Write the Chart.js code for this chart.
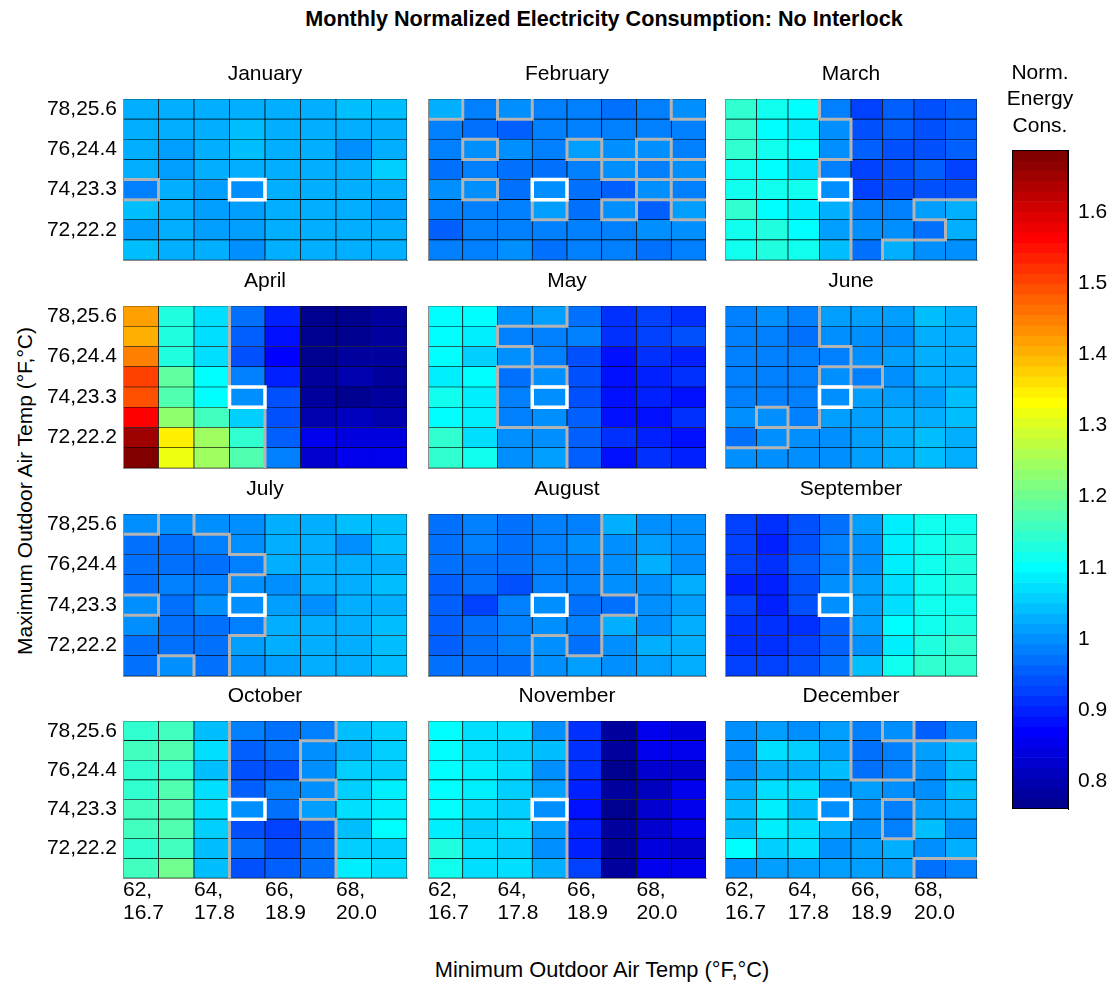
<!DOCTYPE html>
<html><head><meta charset="utf-8">
<script src="https://cdn.jsdelivr.net/npm/chart.js@4/dist/chart.umd.min.js"></script>
<style>
html,body{margin:0;padding:0;background:#fff;}
body{width:1109px;height:984px;position:relative;overflow:hidden;font-family:'Liberation Sans',Arial,Helvetica,sans-serif;}
canvas{position:absolute;}
.t{position:absolute;white-space:nowrap;color:#000;line-height:1;transform:translate(-50%,-50%);}
</style></head><body>
<div class="t" id="supTitle" style="left:604px;top:19px;font-size:21.6px;font-weight:bold;">Monthly Normalized Electricity Consumption: No Interlock</div>
<div class="t" id="xTitle" style="left:602px;top:970px;font-size:21.8px;">Minimum Outdoor Air Temp (°F,°C)</div>
<div class="t" id="yTitle" style="left:24px;top:491px;font-size:21px;transform:translate(-50%,-50%) rotate(-90deg);">Maximum Outdoor Air Temp (°F,°C)</div>
<script>
// ---------------- data ----------------
const monthNames = ["January","February","March","April","May","June","July","August","September","October","November","December"];
const minTemps = [62,63,64,65,66,67,68,69];          // columns (°F)
const maxTemps = [78,77,76,75,74,73,72,71];          // rows, top to bottom (°F)
const xTickValues = [62,64,66,68];
const xTickLabels = [["62,","16.7"],["64,","17.8"],["66,","18.9"],["68,","20.0"]];
const yTickValues = [78,76,74,72];
const yTickLabels = ["78,25.6","76,24.4","74,23.3","72,22.2"];
const baselineMin = 65, baselineMax = 74;            // white box cell
const contourLevel = 1.0;                            // gray contour
const cbTickValues = [0.8,0.9,1.0,1.1,1.2,1.3,1.4,1.5,1.6];
const cbTickLabels = ["0.8","0.9","1","1.1","1.2","1.3","1.4","1.5","1.6"];
const colorMin = 0.761, colorMax = 1.687, nColors = 64;

const january = [
 [1.029,1.022,1.029,1.022,1.029,1.029,1.043,1.043],
 [1.022,1.029,1.022,1.043,1.029,1.022,1.029,1.029],
 [1.029,1.014,1.029,1.043,1.029,1.022,1.004,1.029],
 [1.029,1.014,1.029,1.022,1.029,1.029,1.029,1.058],
 [0.985,1.029,1.014,1.000,1.022,1.029,1.029,1.022],
 [1.043,1.029,1.014,1.014,1.029,1.029,1.029,1.014],
 [1.014,1.029,1.014,1.014,1.029,1.029,1.029,1.029],
 [1.043,1.029,1.029,1.004,1.029,1.029,1.029,1.022]];
const february = [
 [1.029,0.985,1.004,0.990,0.990,0.971,0.990,1.005],
 [0.990,0.975,0.956,0.985,0.990,0.985,0.990,0.985],
 [0.985,1.004,0.997,0.990,1.014,0.997,1.004,0.990],
 [0.975,0.985,0.975,0.975,0.985,1.003,0.985,1.003],
 [0.997,1.004,0.975,1.000,0.975,0.956,1.004,0.985],
 [0.985,0.990,0.990,1.014,0.975,1.004,0.956,1.014],
 [0.960,0.985,0.985,0.985,0.990,0.985,0.997,0.997],
 [0.990,0.985,0.997,0.970,0.990,0.985,0.975,0.990]];
const march = [
 [1.145,1.116,1.101,0.990,0.927,0.956,0.942,0.956],
 [1.145,1.101,1.087,1.004,0.942,0.956,0.942,0.956],
 [1.145,1.116,1.101,1.004,0.956,0.942,0.942,0.956],
 [1.116,1.101,1.072,0.985,0.927,0.942,0.956,0.927],
 [1.116,1.116,1.116,1.000,0.927,0.942,0.942,0.942],
 [1.145,1.101,1.087,1.029,0.985,0.985,1.014,1.029],
 [1.116,1.130,1.101,1.014,0.997,0.997,0.971,1.029],
 [1.116,1.130,1.116,1.043,0.971,1.029,1.004,1.004]];
const april = [
 [1.420,1.130,1.072,0.971,0.898,0.768,0.768,0.783],
 [1.406,1.130,1.072,0.956,0.884,0.768,0.768,0.783],
 [1.449,1.130,1.072,0.942,0.870,0.768,0.783,0.783],
 [1.507,1.188,1.101,0.985,0.898,0.783,0.797,0.783],
 [1.493,1.174,1.101,1.000,0.942,0.783,0.768,0.783],
 [1.565,1.232,1.159,1.058,0.942,0.797,0.812,0.797],
 [1.652,1.348,1.246,1.145,0.956,0.855,0.841,0.841],
 [1.680,1.319,1.246,1.174,0.985,0.826,0.855,0.855]];
const may = [
 [1.101,1.101,1.003,1.010,0.971,0.913,0.927,0.913],
 [1.101,1.087,0.985,0.985,0.990,0.913,0.927,0.942],
 [1.101,1.058,1.004,0.985,0.942,0.884,0.913,0.898],
 [1.087,1.101,0.971,1.006,0.942,0.884,0.898,0.913],
 [1.116,1.087,0.985,1.000,0.942,0.884,0.898,0.884],
 [1.101,1.087,0.985,0.997,0.956,0.884,0.884,0.913],
 [1.145,1.072,1.003,1.006,0.956,0.913,0.898,0.884],
 [1.145,1.116,1.005,1.014,0.956,0.884,0.913,0.898]];
const june = [
 [0.985,0.997,0.985,1.014,1.014,1.014,1.043,1.029],
 [0.985,0.985,0.971,1.003,1.004,1.004,1.029,1.029],
 [0.985,0.985,0.985,0.990,1.005,1.014,1.029,1.029],
 [0.985,0.990,0.985,1.003,0.985,1.003,1.029,1.029],
 [0.985,0.985,0.985,1.000,1.014,1.014,1.014,1.043],
 [0.997,1.004,0.985,1.014,1.014,1.029,1.029,1.043],
 [0.971,0.997,1.004,1.003,1.014,1.029,1.043,1.029],
 [1.004,1.004,1.004,1.005,1.014,1.029,1.043,1.029]];
const july = [
 [1.003,0.997,1.004,1.004,1.029,1.022,1.043,1.043],
 [0.971,0.971,0.985,1.005,1.022,1.022,1.005,1.043],
 [0.971,0.971,0.971,0.985,1.029,1.022,1.029,1.029],
 [0.971,0.985,0.985,1.003,1.003,1.022,1.029,1.043],
 [1.004,0.971,0.997,1.000,1.014,1.003,1.029,1.029],
 [0.997,0.971,0.971,0.988,1.022,1.022,1.029,1.036],
 [0.971,0.971,0.971,1.014,1.022,1.029,1.022,1.043],
 [0.971,1.004,0.971,1.004,1.014,1.029,1.029,1.043]];
const august = [
 [0.971,0.985,0.971,0.985,0.985,1.029,1.004,1.005],
 [0.971,0.985,0.971,0.985,0.997,1.003,1.014,1.004],
 [0.971,0.971,0.971,0.985,0.985,1.003,1.029,1.005],
 [0.956,0.971,0.942,0.985,0.985,1.003,1.005,1.029],
 [0.956,0.927,0.985,1.000,0.971,0.971,1.005,1.014],
 [0.956,0.971,0.985,0.997,0.985,1.029,1.004,1.029],
 [0.956,0.971,0.985,1.003,0.971,1.005,1.029,1.029],
 [0.971,0.971,0.971,1.004,1.014,1.005,1.014,1.029]];
const september = [
 [0.927,0.913,0.942,0.971,1.014,1.087,1.116,1.116],
 [0.927,0.898,0.942,0.985,1.004,1.087,1.116,1.130],
 [0.927,0.913,0.956,0.985,1.003,1.087,1.116,1.130],
 [0.898,0.898,0.942,0.997,1.014,1.072,1.116,1.130],
 [0.927,0.898,0.942,1.000,1.014,1.072,1.116,1.116],
 [0.913,0.913,0.913,0.956,1.014,1.101,1.116,1.130],
 [0.913,0.913,0.927,0.956,1.004,1.087,1.130,1.145],
 [0.927,0.927,0.942,0.971,1.043,1.116,1.145,1.145]];
const october = [
 [1.145,1.159,1.043,0.985,0.971,0.985,1.043,1.058],
 [1.159,1.174,1.072,0.956,0.971,1.004,1.029,1.058],
 [1.145,1.145,1.043,0.942,0.942,1.006,1.058,1.058],
 [1.145,1.174,1.072,0.956,0.985,0.997,1.058,1.087],
 [1.159,1.174,1.072,1.000,0.971,1.014,1.072,1.087],
 [1.159,1.174,1.058,0.942,0.927,0.956,1.043,1.101],
 [1.145,1.159,1.043,0.971,0.942,0.971,1.058,1.058],
 [1.159,1.203,1.043,0.942,0.956,0.971,1.087,1.072]];
const november = [
 [1.101,1.072,1.072,1.004,0.913,0.783,0.855,0.841],
 [1.101,1.072,1.058,1.043,0.913,0.783,0.855,0.855],
 [1.101,1.087,1.072,1.005,0.913,0.768,0.826,0.826],
 [1.101,1.087,1.058,1.014,0.898,0.783,0.812,0.855],
 [1.101,1.072,1.058,1.000,0.884,0.768,0.826,0.855],
 [1.087,1.058,1.072,1.014,0.898,0.783,0.826,0.855],
 [1.130,1.072,1.058,1.004,0.898,0.783,0.841,0.826],
 [1.116,1.072,1.072,1.029,0.927,0.783,0.855,0.855]];
const december = [
 [1.004,1.014,1.005,1.014,0.985,1.003,0.956,0.997],
 [1.003,1.072,1.058,1.014,0.971,0.985,1.014,1.043],
 [1.003,1.029,1.029,1.043,0.971,0.985,1.004,1.043],
 [1.029,1.072,1.072,1.002,1.014,1.004,1.004,1.043],
 [1.043,1.087,1.043,1.000,1.002,0.985,1.014,1.029],
 [1.043,1.087,1.072,1.029,1.004,0.985,1.043,1.004],
 [1.101,1.058,1.072,1.004,1.014,1.029,1.004,1.029],
 [1.004,1.014,1.014,1.014,1.014,1.014,0.971,0.985]];
const monthValues = [january,february,march,april,may,june,july,august,september,october,november,december];

// ---------------- layout / style ----------------
const FONT = "'Liberation Sans', Arial, Helvetica, sans-serif";
Chart.defaults.font.family = FONT;
Chart.defaults.color = '#000';
const layout = { colLeft:[123,428,725], colWidth:[284,278,252], rowTop:[99,306,514,721], rowHeight:[161,162,162,157] };
const cbBox = { left:1012, top:150, width:56, height:659 };

function jet(m){
  const n = Math.ceil(m/4), u = [];
  for (let i=1;i<=n;i++) u.push(i/n);
  for (let i=0;i<n-1;i++) u.push(1);
  for (let i=n;i>=1;i--) u.push(i/n);
  const g0 = Math.ceil(n/2) - (m%4===1?1:0);
  const cols = Array.from({length:m},()=>[0,0,0]);
  for (let k=0;k<u.length;k++){
    const g=g0+k+1, r=g+n, b=g-n;
    if (g>=1&&g<=m) cols[g-1][1]=u[k];
    if (r>=1&&r<=m) cols[r-1][0]=u[k];
    if (b>=1&&b<=m) cols[b-1][2]=u[k];
  }
  return cols.map(c=>`rgb(${Math.round(c[0]*255)},${Math.round(c[1]*255)},${Math.round(c[2]*255)})`);
}
const jetColors = jet(nColors);
function colorFor(v){
  let i = Math.floor((v-colorMin)/(colorMax-colorMin)*nColors);
  i = Math.max(0, Math.min(nColors-1, i));
  return jetColors[i];
}
function contourSegments(vals){
  const pts = [];
  for (let r=0;r<8;r++) for (let c=0;c<8;c++){
    const a = vals[r][c] > contourLevel;
    if (c<7 && a !== (vals[r][c+1] > contourLevel)){
      const x = minTemps[c]+1;
      pts.push({x, y:maxTemps[r]+0.5},{x, y:maxTemps[r]-0.5},{x, y:null});
    }
    if (r<7 && a !== (vals[r+1][c] > contourLevel)){
      const y = maxTemps[r]-0.5;
      pts.push({x:minTemps[c], y},{x:minTemps[c]+1, y},{x:minTemps[c]+1, y:null});
    }
  }
  return pts;
}
const boxPts = [
  {x:baselineMin, y:baselineMax-0.5},{x:baselineMin+1, y:baselineMax-0.5},
  {x:baselineMin+1, y:baselineMax+0.5},{x:baselineMin, y:baselineMax+0.5},
  {x:baselineMin, y:baselineMax-0.5}];

function makeCanvas(left, top, w, h){
  const cv = document.createElement('canvas');
  cv.width = w; cv.height = h;
  cv.style.left = left+'px'; cv.style.top = top+'px';
  cv.style.width = w+'px'; cv.style.height = h+'px';
  document.body.appendChild(cv);
  return cv;
}
function zeroPad(s){ s.paddingTop = 0; s.paddingBottom = 0; s.paddingLeft = 0; s.paddingRight = 0; }

monthNames.forEach((name, idx) => {
  const vals = monthValues[idx];
  const col = idx % 3, row = Math.floor(idx/3);
  const L = layout.colLeft[col], W = layout.colWidth[col], T = layout.rowTop[row], H = layout.rowHeight[row];
  const yw = col===0 ? 110 : 4, xh = row===3 ? 70 : 4, th = 38;
  const cv = makeCanvas(L-yw, T-th, yw+W+yw, th+H+xh);
  const cells = [], colors = [];
  for (let r=0;r<8;r++) for (let c=0;c<8;c++){
    cells.push({x:minTemps[c]+0.5, y:[maxTemps[r]-0.5, maxTemps[r]+0.5]});
    colors.push(colorFor(vals[r][c]));
  }
  const axisBorder = {display:true, color:'#8c8c8c', width:1, z:1};
  new Chart(cv, {
    type:'bar',
    data:{ datasets:[
      {type:'line', order:0, xAxisID:'x', yAxisID:'y', data:boxPts, borderColor:'#ffffff', borderWidth:3.5, pointRadius:0,
       borderCapStyle:'square', borderJoinStyle:'miter', fill:false, tension:0, clip:0},
      {type:'line', order:1, xAxisID:'x', yAxisID:'y', data:contourSegments(vals), borderColor:'#b3b3b3', borderWidth:3, pointRadius:0,
       spanGaps:false, borderCapStyle:'square', borderJoinStyle:'miter', fill:false, tension:0, clip:0},
      {type:'bar', order:2, xAxisID:'x', yAxisID:'y', data:cells, backgroundColor:colors, borderColor:'#000', borderWidth:0.7,
       borderSkipped:false, barPercentage:1, categoryPercentage:1, grouped:false}
    ]},
    options:{
      responsive:false, animation:false, devicePixelRatio:1, events:[],
      layout:{padding:0},
      plugins:{
        legend:{display:false}, tooltip:{enabled:false},
        title:{display:true, text:name, color:'#000', font:{size:21, weight:'normal', lineHeight:1.2}, padding:{top:1,bottom:11.8}}
      },
      scales:{
        x:{type:'linear', min:62, max:70, offset:false, grid:{display:false, drawTicks:false, offset:false}, border:axisBorder,
           ticks:{display:row===3, align:'start', padding:1, autoSkip:false, maxRotation:0, minRotation:0,
                  font:{size:21, lineHeight:1.1}, color:'#000',
                  callback:(v)=>{ const i = xTickValues.indexOf(v); return i<0 ? '' : xTickLabels[i]; }},
           afterBuildTicks:(s)=>{ s.ticks = xTickValues.map(v=>({value:v})); },
           afterFit:(s)=>{ s.height = xh; zeroPad(s); }},
        y:{type:'linear', position:'left', min:70.5, max:78.5, offset:false, grid:{display:false, drawTicks:false}, border:axisBorder,
           ticks:{display:col===0, padding:6, font:{size:21}, color:'#000',
                  callback:(v)=>{ const i = yTickValues.indexOf(v); return i<0 ? '' : yTickLabels[i]; }},
           afterBuildTicks:(s)=>{ s.ticks = yTickValues.map(v=>({value:v})); },
           afterFit:(s)=>{ s.width = yw; zeroPad(s); }},
        yr:{type:'linear', position:'right', min:0, max:1, grid:{display:false, drawTicks:false}, border:{display:false},
            ticks:{display:false}, afterFit:(s)=>{ s.width = yw; zeroPad(s); }}
      }
    }
  });
});

// ---------------- colour bar ----------------
(function(){
  const side = 41, titleH = 95, bottomPad = 10;
  const cv = makeCanvas(cbBox.left-side, cbBox.top-titleH, side*2+cbBox.width, titleH+cbBox.height+bottomPad);
  const step = (colorMax-colorMin)/nColors;
  const bands = jetColors.map((c,i)=>({x:0, y:[colorMin+i*step, colorMin+(i+1)*step]}));
  new Chart(cv, {
    type:'bar',
    data:{ datasets:[
      {order:0, xAxisID:'x', yAxisID:'y', data:[{x:0, y:[colorMin,colorMax]}], backgroundColor:'rgba(0,0,0,0)', borderColor:'#000', borderWidth:1,
       borderSkipped:false, grouped:false, barThickness:cbBox.width, inflateAmount:0},
      {order:1, xAxisID:'x', yAxisID:'y', data:bands, backgroundColor:jetColors, borderWidth:0, grouped:false, barThickness:cbBox.width}
    ]},
    options:{
      responsive:false, animation:false, devicePixelRatio:1, events:[],
      layout:{padding:{left:0,right:0,top:0,bottom:bottomPad}},
      plugins:{
        legend:{display:false}, tooltip:{enabled:false},
        title:{display:true, text:['Norm.','Energy','Cons.'], color:'#000', font:{size:21, weight:'normal', lineHeight:26.5/21}, padding:{top:4.75,bottom:10.75}}
      },
      scales:{
        x:{type:'linear', min:-0.5, max:0.5, offset:false, display:false},
        yl:{type:'linear', position:'left', min:0, max:1, grid:{display:false, drawTicks:false}, border:{display:false}, ticks:{display:false},
            afterFit:(s)=>{ s.width = side; zeroPad(s); }},
        y:{type:'linear', position:'right', min:colorMin, max:colorMax,
           grid:{display:true, drawOnChartArea:false, drawTicks:true, tickLength:-7, color:'#000', lineWidth:1},
           border:{display:true, color:'#000', width:1},
           ticks:{padding:17, font:{size:21}, color:'#000',
                  callback:(v)=>{ const i = cbTickValues.findIndex(t=>Math.abs(t-v)<1e-9); return i<0 ? '' : cbTickLabels[i]; }},
           afterBuildTicks:(s)=>{ s.ticks = cbTickValues.map(v=>({value:v})); },
           afterFit:(s)=>{ s.width = side; zeroPad(s); }}
      }
    }
  });
})();
</script>
</body></html>
